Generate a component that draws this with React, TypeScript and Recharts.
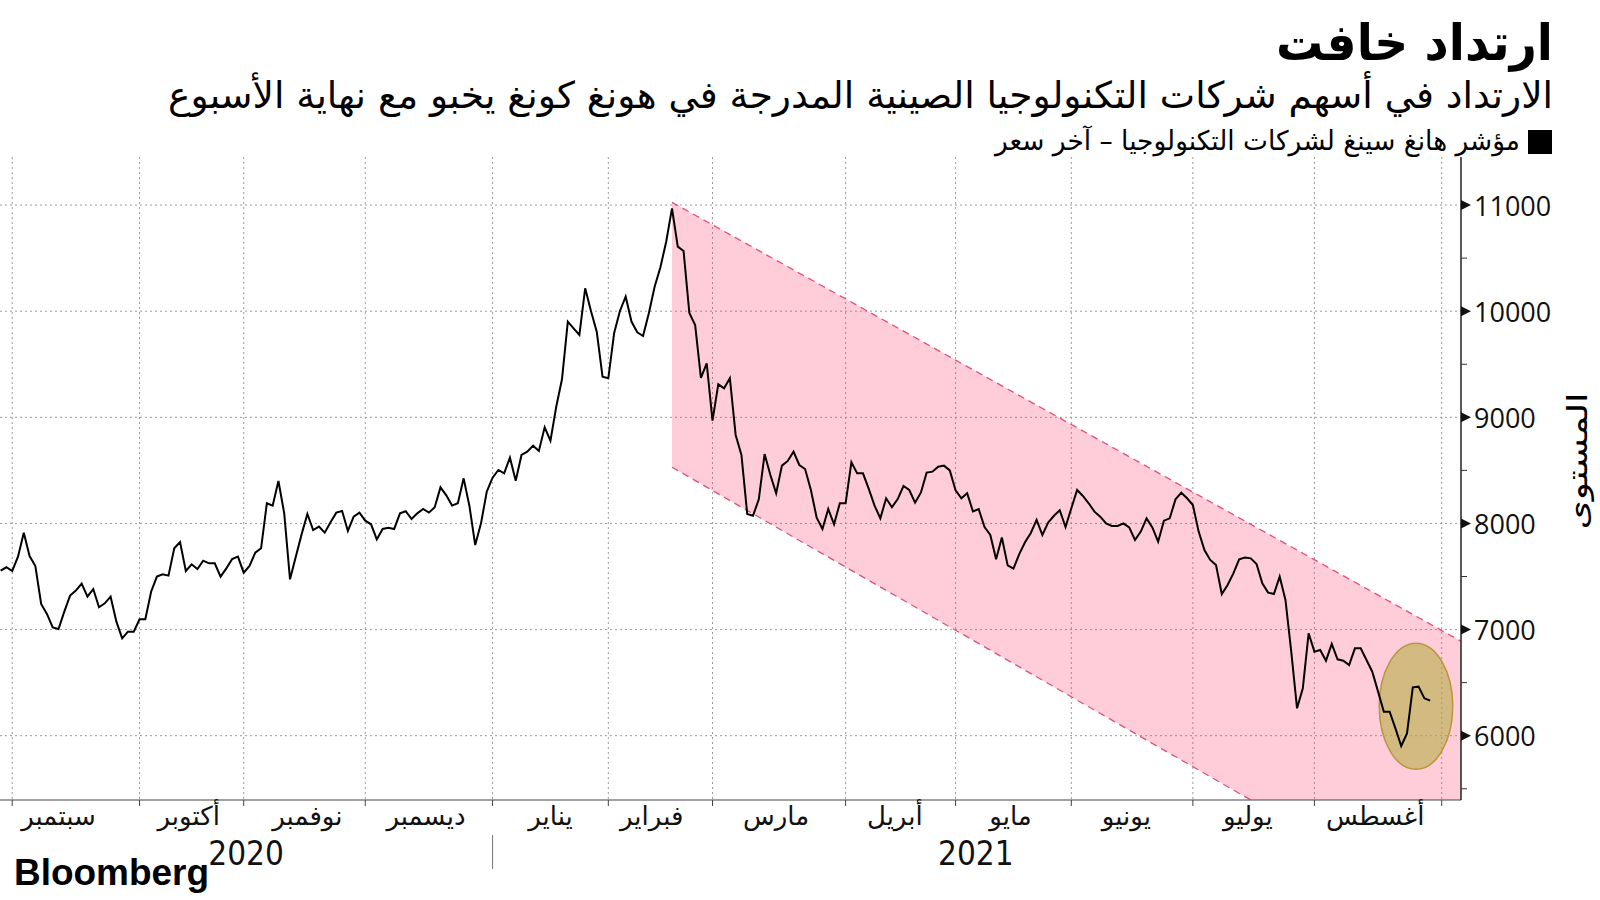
import React from 'react';
import { ComposedChart, Line, Area, XAxis, YAxis, CartesianGrid, ReferenceArea } from 'recharts';

// Hang Seng Tech index, one value per trading day (late Aug 2020 -> end Aug 2021)
const prices = [
  7555, 7587, 7552, 7687, 7913, 7693, 7599, 7241, 7147, 7021,
  7005, 7169, 7320, 7367, 7433, 7310, 7382, 7210, 7247, 7310,
  7075, 6917, 6980, 6980, 7097, 7097, 7357, 7499, 7521, 7508,
  7766, 7825, 7552, 7615, 7571, 7649, 7624, 7624, 7499, 7577,
  7665, 7687, 7536, 7599, 7725, 7766, 8190, 8168, 8400, 8095,
  7473, 7687, 7897, 8089, 7938, 7970, 7913, 8011, 8102, 8117,
  7929, 8064, 8102, 8026, 7992, 7850, 7948, 7960, 7948, 8095,
  8115, 8042, 8095, 8136, 8102, 8152, 8340, 8265, 8168, 8190,
  8425, 8165, 7797, 8001, 8300, 8431, 8504, 8472, 8620, 8403,
  8645, 8676, 8733, 8683, 8906, 8780, 9100, 9361, 9902, 9839,
  9776, 10216, 10002, 9807, 9383, 9368, 9792, 10002, 10137, 9902,
  9801, 9766, 9980, 10231, 10414, 10655, 10969, 10608, 10567, 9983,
  9870, 9372, 9509, 8969, 9311, 9273, 9368, 8834, 8645, 8090,
  8073, 8227, 8654, 8457, 8284, 8545, 8589, 8676, 8551, 8513,
  8315, 8055, 7948, 8136, 7992, 8190, 8190, 8576, 8472, 8472,
  8325, 8168, 8048, 8237, 8152, 8230, 8353, 8315, 8196, 8290,
  8479, 8488, 8535, 8545, 8500, 8312, 8237, 8284, 8114, 8135,
  7966, 7891, 7662, 7868, 7605, 7574, 7711, 7823, 7910, 8033,
  7891, 8009, 8072, 8124, 7966, 8143, 8315, 8259, 8190, 8111,
  8064, 8001, 7976, 7976, 8001, 7963, 7844, 7923, 8048, 7963,
  7828, 8026, 8048, 8227, 8290, 8237, 8174, 7923, 7750, 7656,
  7609, 7335, 7420, 7530, 7662, 7678, 7671, 7618, 7436, 7348,
  7335, 7499, 7279, 6792, 6258, 6446, 6965, 6792, 6808, 6707,
  6864, 6720, 6707, 6666, 6823, 6823, 6713, 6603, 6415, 6226,
  6226, 6069, 5903, 6022, 6456, 6462, 6352, 6330,
];

// x axis (trading-day index)
const dayDomain = [-0.11, 252.33];
const monthStarts = [2, 24, 42, 63, 85, 105, 123, 146, 165, 185, 206, 227, 249];
const monthLabelDays = [10, 32.5, 53, 73.5, 95, 112.5, 134, 154.5, 174.5, 194.5, 215.5, 237.5];
const monthNames = ['سبتمبر', 'أكتوبر', 'نوفمبر', 'ديسمبر', 'يناير', 'فبراير', 'مارس', 'أبريل', 'مايو', 'يونيو', 'يوليو', 'أغسطس'];
const yearDays = [42.4, 85, 168.5];
const yearLabels = ['2020', '', '2021'];

// y axis
const valueDomain = [5394, 11453];
const majorTicks = [6000, 7000, 8000, 9000, 10000, 11000];
const minorTicks = [5500, 6500, 7500, 8500, 9500, 10500];

// downward channel (start at the February peak, end at the right edge)
const channelDays = [116, 252.33];
const channelUpper = [11026, 6890];
const channelLower = [8530, 4255];

// highlighted end-of-week rebound
const highlightDays = [238.2, 250.9];
const highlightValues = [5683, 6871];

const title = 'ارتداد خافت';
const subtitle = 'الارتداد في أسهم شركات التكنولوجيا الصينية المدرجة في هونغ كونغ يخبو مع نهاية الأسبوع';
const legendLabel = 'مؤشر هانغ سينغ لشركات التكنولوجيا – آخر سعر';
const yAxisTitle = 'المستوى';

const ARABIC = "'DejaVu Sans', 'Noto Sans', sans-serif";
const LATIN = "'Open Sans', 'DejaVu Sans', sans-serif";

const rows: any[] = prices.map((price, day) => ({ day, price }));
rows[channelDays[0]].channel = [channelLower[0], channelUpper[0]];
rows.push({ day: channelDays[1], channel: [channelLower[1], channelUpper[1]] });

const EmptyTick = () => <g />;

const MonthTick = (props: any) => {
  const { x, y, payload } = props;
  const idx = monthLabelDays.indexOf(payload.value);
  return (
    <text x={x} y={y + 10} textAnchor="middle" dominantBaseline="central" fontFamily={ARABIC} fontSize={26} fill="#111">
      {monthNames[idx]}
    </text>
  );
};

const YearTick = (props: any) => {
  const { x, y, payload } = props;
  const idx = yearDays.indexOf(payload.value);
  const label = yearLabels[idx];
  if (!label) {
    return <line x1={x} x2={x} y1={y - 11} y2={y + 23} stroke="#777" strokeWidth={1} />;
  }
  return (
    <text x={x} y={y + 7} textAnchor="middle" dominantBaseline="central" fontFamily="'Liberation Sans Narrow', 'DejaVu Sans Condensed', sans-serif" fontSize={33} fill="#111">
      {label}
    </text>
  );
};

const YTick = (props: any) => {
  const { x, y, payload } = props;
  const v = payload.value;
  if (majorTicks.includes(v)) {
    return (
      <g>
        <polygon points={`${x},${y - 5} ${x + 10},${y} ${x},${y + 5}`} fill="#111" />
        <text x={x + 13} y={y} dominantBaseline="central" fontFamily={LATIN} fontSize={27} fill="#111">
          {v}
        </text>
      </g>
    );
  }
  return <line x1={x} x2={x + 6} y1={y} y2={y} stroke="#333" strokeWidth={1} />;
};

const EllipseShape = (props: any) => {
  const { x, y, width, height } = props;
  return (
    <ellipse
      cx={x + width / 2}
      cy={y + height / 2}
      rx={Math.abs(width) / 2}
      ry={Math.abs(height) / 2}
      fill="#b4ae46"
      fillOpacity={0.6}
      stroke="#b8973f"
      strokeWidth={1.5}
    />
  );
};

export default function App() {
  return (
    <div style={{ position: 'absolute', left: 0, top: 0, width: 1600, height: 900, background: '#fff', overflow: 'hidden' }}>
      <ComposedChart width={1600} height={900} data={rows} margin={{ top: 157, right: 0, left: 0, bottom: 0 }}>
        <CartesianGrid
          xAxisId="g"
          stroke="#9a9a9a"
          strokeDasharray="2 3"
          horizontalValues={majorTicks}
          verticalValues={monthStarts}
        />
        <XAxis
          xAxisId="g"
          dataKey="day"
          type="number"
          domain={dayDomain}
          allowDataOverflow
          ticks={monthStarts}
          interval={0}
          tick={<EmptyTick />}
          tickSize={6}
          tickLine={{ stroke: '#444' }}
          axisLine={{ stroke: '#444', strokeWidth: 1.2 }}
          height={6}
        />
        <XAxis
          xAxisId="m"
          dataKey="day"
          type="number"
          domain={dayDomain}
          allowDataOverflow
          ticks={monthLabelDays}
          interval={0}
          tick={<MonthTick />}
          tickLine={false}
          axisLine={false}
          tickSize={0}
          tickMargin={0}
          height={40}
        />
        <XAxis
          xAxisId="yr"
          dataKey="day"
          type="number"
          domain={dayDomain}
          allowDataOverflow
          ticks={yearDays}
          interval={0}
          tick={<YearTick />}
          tickLine={false}
          axisLine={false}
          tickSize={0}
          tickMargin={0}
          height={54}
        />
        <YAxis
          orientation="right"
          type="number"
          domain={valueDomain}
          allowDataOverflow
          ticks={[...minorTicks, ...majorTicks].sort((a, b) => a - b)}
          interval={0}
          tick={<YTick />}
          tickLine={false}
          tickSize={0}
          tickMargin={0}
          axisLine={{ stroke: '#222', strokeWidth: 1.5 }}
          width={139}
        />
        <Area
          xAxisId="g"
          dataKey="channel"
          type="linear"
          fill="#ff3366"
          fillOpacity={0.25}
          stroke="#e0507a"
          strokeWidth={1.3}
          strokeDasharray="7 5"
          connectNulls
          dot={false}
          activeDot={false}
          isAnimationActive={false}
        />
        <ReferenceArea
          xAxisId="g"
          x1={highlightDays[0]}
          x2={highlightDays[1]}
          y1={highlightValues[0]}
          y2={highlightValues[1]}
          shape={<EllipseShape />}
          ifOverflow="visible"
        />
        <Line
          xAxisId="g"
          dataKey="price"
          type="linear"
          stroke="#000"
          strokeWidth={2}
          dot={false}
          activeDot={false}
          isAnimationActive={false}
        />
      </ComposedChart>
      <svg width={1600} height={900} style={{ position: 'absolute', left: 0, top: 0, pointerEvents: 'none' }}>
        <text x={1553} y={60} textAnchor="end" fontFamily={ARABIC} fontWeight="bold" fontSize={50} textLength={277} lengthAdjust="spacingAndGlyphs" fill="#000">
          {title}
        </text>
        <text x={1553} y={108} textAnchor="end" fontFamily={ARABIC} fontSize={37} textLength={1385} lengthAdjust="spacingAndGlyphs" fill="#000">
          {subtitle}
        </text>
        <rect x={1528} y={130} width={24} height={24} fill="#000" />
        <text x={1520} y={150} textAnchor="end" fontFamily={ARABIC} fontSize={27} textLength={525} lengthAdjust="spacingAndGlyphs" fill="#000">
          {legendLabel}
        </text>
        <text x={1577} y={461} textAnchor="middle" dominantBaseline="central" transform="rotate(-90 1577 461)" fontFamily={ARABIC} fontSize={28} textLength={137} lengthAdjust="spacingAndGlyphs" fill="#000">
          {yAxisTitle}
        </text>
        <text x={14} y={885} fontFamily="'Liberation Sans', Arial, sans-serif" fontWeight="bold" fontSize={37} textLength={195} lengthAdjust="spacingAndGlyphs" fill="#000">
          Bloomberg
        </text>
      </svg>
    </div>
  );
}
